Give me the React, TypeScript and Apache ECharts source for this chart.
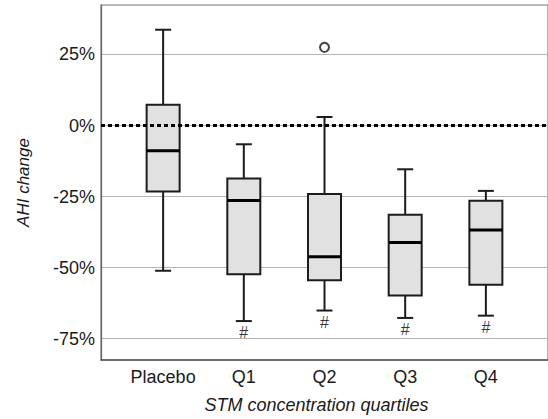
import React, { useEffect, useRef } from "react";
import * as echarts from "echarts";

const categories = ["Placebo", "Q1", "Q2", "Q3", "Q4"];
const whiskerLow = [-51.1, -68.8, -65.1, -67.7, -66.9];
const quartile1 = [-23.2, -52.3, -54.4, -59.8, -56.0];
const medians = [-8.9, -26.4, -46.2, -41.2, -36.8];
const quartile3 = [7.3, -18.6, -24.1, -31.4, -26.5];
const whiskerHigh = [33.7, -6.6, 3.0, -15.4, -23.0];
const outliers: [number, number][] = [[2, 27.5]];
const hashMarked = [1, 2, 3, 4];
const yTicks = [-75, -50, -25, 0, 25];

export default function App() {
  const ref = useRef<HTMLDivElement>(null);
  useEffect(() => {
    const chart = echarts.init(ref.current!, null, { renderer: "svg" });
    const boxData = categories.map((_, i) => [
      i,
      whiskerLow[i],
      quartile1[i],
      medians[i],
      quartile3[i],
      whiskerHigh[i],
    ]);
    const hashData = hashMarked.map((i) => [i, whiskerLow[i]]);
    const font = "Liberation Sans, Arial, sans-serif";
    chart.setOption({
      animation: false,
      grid: {
        left: 101,
        right: -7,
        top: 5,
        bottom: 56,
        show: true,
        borderColor: "#777",
        borderWidth: 1.2,
      },
      xAxis: {
        type: "value",
        min: -0.77,
        max: 4.77,
        name: "STM concentration quartiles",
        nameLocation: "middle",
        nameGap: 36,
        nameTextStyle: {
          fontFamily: font,
          fontSize: 18,
          fontStyle: "italic",
          color: "#1a1a1a",
          padding: [0, 16, 0, 0],
        },
        axisLine: { show: true, onZero: false, lineStyle: { color: "#555", width: 1.5 } },
        axisTick: { show: false, customValues: [0, 1, 2, 3, 4] },
        splitLine: { show: false },
        axisLabel: {
          customValues: [0, 1, 2, 3, 4],
          formatter: (v: number) => categories[Math.round(v)] ?? "",
          fontFamily: font,
          fontSize: 18,
          color: "#1a1a1a",
          margin: 8,
        },
      },
      yAxis: {
        type: "value",
        min: -82.5,
        max: 42.4,
        name: "AHI change",
        nameLocation: "middle",
        nameGap: 69,
        nameTextStyle: {
          fontFamily: font,
          fontSize: 17,
          fontStyle: "italic",
          color: "#1a1a1a",
        },
        axisLine: { show: true, onZero: false, lineStyle: { color: "#666", width: 1.2 } },
        axisTick: { show: false, customValues: yTicks },
        splitLine: { show: true, lineStyle: { color: "#b4b4b4", width: 1.2 } },
        axisLabel: {
          customValues: yTicks,
          formatter: (v: number) => `${v}%`,
          fontFamily: font,
          fontSize: 18,
          color: "#1a1a1a",
          margin: 6,
        },
      },
      series: [
        {
          type: "custom",
          data: boxData,
          encode: { x: 0, y: [1, 2, 3, 4, 5] },
          z: 3,
          renderItem: (params: any, api: any) => {
            const x = api.value(0);
            const pLo = api.coord([x, api.value(1)]);
            const pQ1 = api.coord([x, api.value(2)]);
            const pMed = api.coord([x, api.value(3)]);
            const pQ3 = api.coord([x, api.value(4)]);
            const pHi = api.coord([x, api.value(5)]);
            const cx = pMed[0];
            const bw = 33;
            const cap = 16;
            const stroke = "#1c1c1c";
            return {
              type: "group",
              children: [
                {
                  type: "line",
                  shape: { x1: cx, y1: pHi[1], x2: cx, y2: pQ3[1] },
                  style: { stroke, lineWidth: 2 },
                },
                {
                  type: "line",
                  shape: { x1: cx, y1: pQ1[1], x2: cx, y2: pLo[1] },
                  style: { stroke, lineWidth: 2 },
                },
                {
                  type: "line",
                  shape: { x1: cx - cap / 2, y1: pHi[1], x2: cx + cap / 2, y2: pHi[1] },
                  style: { stroke, lineWidth: 2 },
                },
                {
                  type: "line",
                  shape: { x1: cx - cap / 2, y1: pLo[1], x2: cx + cap / 2, y2: pLo[1] },
                  style: { stroke, lineWidth: 2 },
                },
                {
                  type: "rect",
                  shape: { x: cx - bw / 2, y: pQ3[1], width: bw, height: pQ1[1] - pQ3[1] },
                  style: { fill: "#e1e1e1", stroke, lineWidth: 2 },
                },
                {
                  type: "line",
                  shape: { x1: cx - bw / 2, y1: pMed[1], x2: cx + bw / 2, y2: pMed[1] },
                  style: { stroke: "#000", lineWidth: 3 },
                },
              ],
            };
          },
          markLine: {
            silent: true,
            symbol: "none",
            label: { show: false },
            lineStyle: { color: "#000", width: 3, type: [4, 3] },
            data: [{ yAxis: 0 }],
          },
        },
        {
          type: "scatter",
          data: outliers,
          symbol: "circle",
          symbolSize: 9,
          z: 4,
          itemStyle: { color: "#fff", borderColor: "#111", borderWidth: 2 },
        },
        {
          type: "scatter",
          data: hashData,
          symbolSize: 1,
          z: 4,
          itemStyle: { color: "rgba(0,0,0,0)" },
          label: {
            show: true,
            position: "bottom",
            distance: 3,
            formatter: "#",
            fontFamily: "Liberation Sans",
            fontSize: 16,
            color: "#000",
          },
        },
      ],
    });
    return () => chart.dispose();
  }, []);
  return (
    <div
      ref={ref}
      style={{ position: "fixed", left: 0, top: 0, width: 548, height: 419, background: "#fff" }}
    />
  );
}
